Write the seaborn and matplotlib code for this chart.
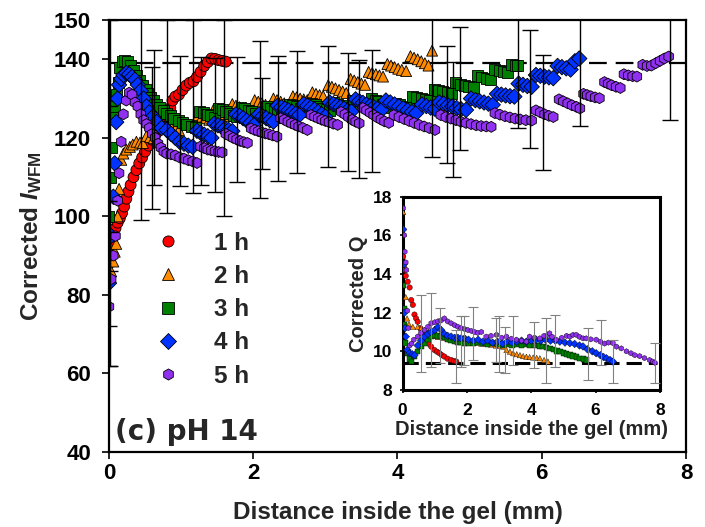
import matplotlib
matplotlib.use('Agg')
import matplotlib.pyplot as plt
import seaborn as sns
import pandas as pd
from matplotlib.lines import Line2D
from matplotlib.font_manager import FontProperties

# ---------------- data ----------------
series_names = ['1 h', '2 h', '3 h', '4 h', '5 h']
series_colors = ['#FF0000', '#FF8C00', '#008000', '#0033FF', '#9030F0']
series_markers = ['o', '^', 's', 'D', 'h']

ref_main = 139      # dashed reference line (main)
ref_inset = 9.4     # dashed reference line (inset)

main_1h = [(0.00, 88), (0.02, 90.5), (0.04, 93), (0.06, 95), (0.09, 97), (0.12, 98.4), (0.15, 99.5),
           (0.18, 100.8), (0.21, 102.5), (0.24, 104.5), (0.27, 106.3), (0.30, 108), (0.34, 110),
           (0.38, 111.8), (0.42, 113.5), (0.46, 115), (0.50, 116.5), (0.55, 118), (0.60, 119.5),
           (0.65, 121), (0.70, 122.5), (0.75, 124), (0.80, 125.8), (0.85, 127.6), (0.88, 129.5),
           (0.92, 130.5), (0.97, 131), (1.02, 132.2), (1.07, 133.3), (1.12, 134), (1.17, 134.4),
           (1.22, 135.5), (1.27, 136.8), (1.32, 138.3), (1.37, 139.3), (1.42, 140.2), (1.47, 140.1),
           (1.52, 139.8), (1.57, 139.6), (1.62, 139.4)]

main_2h = [(0.00, 84), (0.03, 86), (0.06, 88.5), (0.08, 91), (0.10, 93), (0.12, 100), (0.14, 107),
           (0.17, 114.4), (0.20, 116), (0.24, 117), (0.29, 117.7), (0.33, 118.3), (0.38, 119),
           (0.43, 118.8), (0.47, 118.7), (0.52, 120.5), (0.57, 120.2), (0.62, 119.9), (0.67, 119.6),
           (0.72, 123.2), (0.77, 122.9), (0.82, 122.6), (0.87, 122.4), (0.92, 122.2), (0.97, 122.0),
           (1.03, 124.0), (1.08, 123.6), (1.13, 123.3), (1.18, 123.0),
           (1.24, 125.8), (1.29, 125.4), (1.34, 125.0), (1.39, 124.6),
           (1.45, 127.2), (1.50, 126.8), (1.55, 126.4), (1.60, 126.0), (1.65, 125.6),
           (1.71, 128.6), (1.76, 128.2), (1.81, 127.8), (1.86, 127.4), (1.91, 127.0), (1.96, 126.7),
           (2.02, 129.6), (2.07, 129.2), (2.12, 128.8), (2.17, 128.4), (2.22, 128.0),
           (2.28, 130.0), (2.33, 129.6), (2.38, 129.2), (2.43, 128.8), (2.48, 128.4),
           (2.55, 130.6), (2.60, 130.3), (2.65, 130.0), (2.70, 129.8), (2.75, 129.6),
           (2.82, 131.6), (2.87, 131.2), (2.92, 130.9), (2.97, 130.6),
           (3.04, 133.4), (3.09, 133.0), (3.14, 132.6), (3.19, 132.2), (3.24, 131.8), (3.29, 131.4),
           (3.35, 135.0), (3.40, 134.6), (3.45, 134.2), (3.50, 133.8), (3.55, 133.5),
           (3.60, 136.8), (3.65, 136.5), (3.70, 136.2), (3.75, 135.9), (3.80, 135.6),
           (3.86, 138.8), (3.91, 138.4), (3.96, 138.0), (4.01, 137.6), (4.06, 137.3), (4.12, 137.0),
           (4.18, 140.8), (4.23, 140.4), (4.28, 140.0), (4.33, 139.5), (4.38, 139.0), (4.43, 138.4),
           (4.48, 142.2)]

main_3h = [(0.00, 100), (0.02, 110), (0.04, 117.5), (0.05, 125.8), (0.07, 128), (0.10, 131), (0.13, 134),
           (0.15, 138), (0.18, 139.5), (0.22, 139.6), (0.26, 139.4), (0.30, 138.5), (0.34, 137.2),
           (0.38, 136.0), (0.42, 134.6), (0.46, 133.3), (0.50, 132.2), (0.54, 131.2), (0.58, 130.2),
           (0.62, 129.4), (0.66, 128.5), (0.70, 127.8), (0.75, 127.0), (0.80, 126.2), (0.85, 125.6),
           (0.90, 125.0), (0.96, 124.5), (1.02, 124.0), (1.08, 123.5), (1.14, 123.0), (1.20, 122.6),
           (1.26, 126.8), (1.31, 126.4), (1.36, 126.0), (1.41, 125.6), (1.46, 125.2),
           (1.52, 127.6), (1.57, 127.2), (1.62, 126.8), (1.67, 126.3), (1.72, 125.8), (1.77, 125.4),
           (1.83, 127.8), (1.88, 127.4), (1.93, 127.0), (1.98, 126.6), (2.03, 126.2), (2.08, 125.8), (2.13, 125.5),
           (2.19, 128.0), (2.24, 127.6), (2.29, 127.2), (2.34, 126.8), (2.39, 126.4), (2.44, 126.0),
           (2.50, 128.5), (2.55, 128.2), (2.60, 127.9), (2.65, 127.6), (2.70, 127.2), (2.75, 126.8),
           (2.81, 128.8), (2.86, 128.4), (2.91, 128.0), (2.96, 127.6), (3.01, 127.2), (3.06, 126.9),
           (3.12, 129.0), (3.17, 128.6), (3.22, 128.2), (3.27, 127.8), (3.32, 127.4),
           (3.38, 129.6), (3.43, 129.2), (3.48, 128.8), (3.53, 128.4), (3.58, 128.0),
           (3.64, 130.0), (3.69, 129.6), (3.74, 129.2), (3.79, 128.6), (3.85, 128.0), (3.91, 127.6),
           (3.97, 128.8), (4.03, 128.4), (4.09, 128.0), (4.15, 127.7),
           (4.21, 130.6), (4.27, 130.3), (4.33, 130.0), (4.39, 129.7), (4.45, 129.4),
           (4.51, 132.4), (4.57, 132.1), (4.63, 131.8), (4.69, 131.5), (4.75, 131.2),
           (4.81, 134.0), (4.87, 133.7), (4.93, 133.4), (4.99, 133.1), (5.05, 132.8),
           (5.11, 135.8), (5.17, 135.5), (5.23, 135.2), (5.29, 134.9),
           (5.35, 137.4), (5.41, 137.1), (5.47, 136.8), (5.53, 136.6),
           (5.58, 138.6), (5.63, 138.4), (5.67, 138.5)]

main_4h = [(0.00, 83), (0.03, 95), (0.06, 105), (0.08, 113.5), (0.10, 124), (0.12, 130), (0.14, 133.5),
           (0.17, 135), (0.20, 136), (0.24, 136.5), (0.28, 136.2), (0.32, 135.5), (0.36, 134.8),
           (0.40, 133.5), (0.44, 132), (0.48, 130), (0.52, 128), (0.56, 126.5), (0.61, 125.4),
           (0.66, 124), (0.73, 122.5), (0.80, 122.0), (0.86, 121), (0.92, 120), (0.98, 119),
           (1.04, 118.5), (1.10, 118), (1.16, 117.7),
           (1.22, 121.8), (1.27, 121.3), (1.32, 120.8), (1.37, 120.4), (1.42, 120.0),
           (1.46, 123.6), (1.51, 123.2), (1.56, 122.8), (1.61, 122.4), (1.66, 122.0), (1.71, 121.7),
           (1.76, 126.0), (1.81, 125.6), (1.86, 125.0), (1.91, 124.4), (1.96, 123.8), (2.01, 123.2),
           (2.08, 126.0), (2.13, 125.5), (2.18, 125.0), (2.23, 124.5), (2.28, 124.1),
           (2.34, 128.2), (2.39, 127.8), (2.44, 127.4), (2.49, 127.0), (2.54, 126.6), (2.59, 126.2), (2.64, 125.8),
           (2.70, 128.6), (2.75, 128.2), (2.80, 127.7), (2.85, 127.2), (2.90, 126.6), (2.95, 126.0), (3.00, 125.4),
           (3.06, 129.0), (3.11, 128.6), (3.16, 128.2), (3.21, 127.8), (3.26, 127.4), (3.31, 127.0), (3.36, 126.7),
           (3.42, 129.8), (3.47, 129.3), (3.52, 128.9), (3.57, 128.5), (3.62, 128.1), (3.67, 127.8), (3.72, 127.4), (3.78, 127.1),
           (3.84, 129.5), (3.90, 129.0), (3.96, 128.5), (4.02, 128.0), (4.08, 127.5), (4.14, 127.0), (4.20, 126.6), (4.26, 126.3),
           (4.34, 128.5), (4.40, 128.1), (4.46, 127.7), (4.52, 127.4),
           (4.58, 129.0), (4.64, 128.7), (4.70, 128.3), (4.76, 128.0), (4.82, 127.6), (4.88, 127.3), (4.95, 127.1),
           (5.02, 130.0), (5.08, 129.6), (5.14, 129.3), (5.20, 129.0), (5.26, 128.7), (5.32, 128.4),
           (5.38, 131.2), (5.44, 131.0), (5.50, 130.8), (5.56, 130.6), (5.62, 130.5),
           (5.68, 133.8), (5.74, 133.5), (5.80, 133.2), (5.86, 133.0),
           (5.92, 136.0), (5.98, 135.8), (6.04, 135.6), (6.10, 135.4), (6.16, 135.2),
           (6.22, 138.3), (6.28, 138.0), (6.34, 137.7), (6.40, 137.4),
           (6.46, 139.5), (6.52, 140.2)]

main_5h = [(0.00, 77), (0.03, 84), (0.06, 90), (0.09, 95), (0.12, 104), (0.14, 111), (0.17, 119),
           (0.20, 126), (0.24, 129.5), (0.28, 131.5), (0.32, 131), (0.36, 129), (0.40, 128),
           (0.44, 126), (0.48, 124.5), (0.52, 123.5), (0.56, 122.5), (0.60, 121), (0.64, 120),
           (0.68, 118.5), (0.72, 117.5), (0.76, 116.5), (0.80, 116), (0.86, 115.8), (0.92, 115.5),
           (0.98, 115), (1.04, 114.7), (1.10, 114.3), (1.16, 114), (1.22, 113.6),
           (1.27, 117.8), (1.32, 117.4), (1.37, 117.0), (1.42, 116.8), (1.47, 116.6), (1.52, 116.4), (1.57, 116.3),
           (1.62, 121.0), (1.67, 120.5), (1.72, 120.0), (1.77, 119.6), (1.82, 119.2), (1.87, 118.9), (1.92, 118.7),
           (1.97, 122.4), (2.02, 122.0), (2.07, 121.7), (2.12, 121.4), (2.17, 121.1), (2.22, 120.9), (2.27, 120.6), (2.33, 120.3),
           (2.38, 125.0), (2.43, 124.6), (2.48, 124.1), (2.53, 123.7), (2.58, 123.3), (2.63, 122.9), (2.69, 122.5), (2.75, 122.0),
           (2.80, 125.8), (2.85, 125.4), (2.90, 125.0), (2.95, 124.6), (3.00, 124.3), (3.05, 124.0), (3.11, 123.6), (3.17, 123.3),
           (3.22, 126.6), (3.27, 126.0), (3.32, 125.3), (3.37, 124.6), (3.42, 124.1), (3.47, 123.7),
           (3.52, 127.6), (3.57, 127.0), (3.62, 126.4), (3.67, 125.8), (3.72, 125.2), (3.77, 124.7), (3.82, 124.2), (3.88, 123.8),
           (3.95, 125.8), (4.02, 125.3), (4.09, 124.8), (4.16, 124.3), (4.23, 123.8), (4.30, 123.3), (4.37, 122.9), (4.44, 122.5), (4.52, 122.0),
           (4.60, 125.8), (4.67, 125.3), (4.74, 124.9), (4.81, 124.5), (4.88, 124.1), (4.95, 123.8), (5.02, 123.5),
           (5.09, 123.2), (5.16, 123.0), (5.23, 122.9), (5.30, 122.8),
           (5.35, 126.3), (5.42, 125.9), (5.49, 125.5), (5.56, 125.2), (5.63, 124.9), (5.70, 124.7), (5.78, 124.5), (5.86, 124.4),
           (5.92, 127.0), (5.98, 126.5), (6.04, 126.0), (6.10, 125.6), (6.16, 125.3),
           (6.24, 129.8), (6.30, 129.3), (6.36, 128.8), (6.42, 128.3), (6.48, 127.9), (6.53, 127.5),
           (6.58, 131.2), (6.63, 130.9), (6.68, 130.6), (6.74, 130.3), (6.80, 130.1),
           (6.87, 134.2), (6.92, 133.8), (6.97, 133.4), (7.03, 133.0), (7.09, 132.7),
           (7.14, 136.2), (7.20, 135.9), (7.26, 135.7), (7.32, 135.6),
           (7.40, 138.6), (7.46, 138.3), (7.52, 138.4), (7.58, 139.0), (7.64, 139.6), (7.70, 140.2), (7.76, 140.7)]

# main error bars: position, centre, half-width
main_err_x = [0.00, 0.012, 0.00, 0.012, 0.44, 0.59, 0.62, 0.80, 0.98, 1.17, 1.28, 1.47, 1.60, 1.77,
              2.10, 2.12, 2.35, 2.60, 3.04, 3.32, 3.46, 3.64, 4.48, 4.68, 4.77, 4.87, 5.67, 5.84,
              6.02, 6.53, 7.78]
main_err_y = [83, 79, 100, 118, 125, 120, 125.2, 125.4, 124.3, 128, 124.4, 123.3, 125, 124.7,
              124.6, 123.6, 124.9, 126.5, 128, 126.5, 124.9, 126.9, 135, 128.5, 124.7, 132.6, 137, 132.4,
              126.5, 137, 140.5]
main_err_e = [21, 17, 28, 32, 26, 18, 17.2, 24.6, 16.6, 22, 16.3, 17, 25, 16,
              20, 11.6, 16, 15.5, 15.4, 15, 15, 15.5, 20, 15, 14.7, 15.7, 14.6, 15.1,
              14.7, 14, 16]

inset_1h = [(0.02, 14.9), (0.06, 14.2), (0.10, 13.9), (0.16, 13.6), (0.22, 13.3), (0.27, 12.65), (0.32, 12.4),
            (0.37, 11.9), (0.42, 11.7), (0.47, 11.53), (0.55, 11.2), (0.63, 10.9), (0.72, 10.6), (0.80, 10.4),
            (0.89, 10.24), (0.99, 10.07), (1.07, 9.98), (1.15, 9.9), (1.22, 9.8), (1.30, 9.73), (1.40, 9.62),
            (1.51, 9.55), (1.60, 9.5), (1.67, 9.47)]
inset_2h = [(0.02, 17.2), (0.04, 16.1), (0.06, 14.47), (0.10, 12.8), (0.14, 11.7), (0.20, 11.4), (0.32, 11.27),
            (0.47, 11.27), (0.58, 11.2), (0.68, 11.1), (0.80, 11.0), (0.90, 10.9), (1.00, 10.8), (1.10, 10.75),
            (1.25, 10.7), (1.40, 10.65), (1.55, 10.6), (1.70, 10.55), (1.85, 10.5), (2.00, 10.5), (2.15, 10.45),
            (2.30, 10.45), (2.45, 10.4), (2.60, 10.4), (2.75, 10.35), (2.90, 10.3), (3.02, 10.3), (3.13, 10.24),
            (3.23, 10.07), (3.34, 9.98), (3.44, 9.9), (3.55, 9.85), (3.65, 9.8), (3.75, 9.75), (3.85, 9.72),
            (3.95, 9.7), (4.06, 9.68), (4.17, 9.66), (4.27, 9.64), (4.40, 9.55), (4.52, 9.47)]
inset_3h = [(0.02, 13.4), (0.04, 12.2), (0.06, 11.36), (0.10, 10.42), (0.16, 9.9), (0.22, 9.6), (0.28, 9.47),
            (0.37, 9.73), (0.47, 10.0), (0.58, 10.24), (0.68, 10.42), (0.79, 10.6), (0.89, 10.75), (0.99, 10.85),
            (1.10, 10.8), (1.20, 10.76), (1.30, 10.7), (1.41, 10.6), (1.51, 10.55), (1.62, 10.5), (1.72, 10.45),
            (1.82, 10.45), (1.93, 10.42), (2.05, 10.42), (2.20, 10.4), (2.35, 10.45), (2.50, 10.4), (2.65, 10.35),
            (2.80, 10.4), (2.95, 10.35), (3.10, 10.3), (3.25, 10.35), (3.40, 10.3), (3.55, 10.35), (3.70, 10.3),
            (3.85, 10.35), (3.95, 10.33), (4.10, 10.3), (4.25, 10.28), (4.37, 10.25), (4.47, 10.2), (4.58, 10.16),
            (4.70, 10.08), (4.80, 10.02), (4.89, 9.98), (5.00, 9.92), (5.10, 9.86), (5.20, 9.81), (5.30, 9.75),
            (5.40, 9.7), (5.51, 9.64), (5.62, 9.6), (5.72, 9.55)]
inset_4h = [(0.02, 16.3), (0.04, 14.5), (0.06, 12.0), (0.08, 11.2), (0.10, 10.76), (0.15, 10.07), (0.22, 9.9),
            (0.30, 9.85), (0.37, 9.8), (0.47, 10.3), (0.58, 10.55), (0.68, 10.76), (0.79, 10.9), (0.89, 11.0),
            (1.00, 11.1), (1.10, 11.25), (1.20, 11.1), (1.30, 10.9), (1.40, 10.8), (1.51, 10.76), (1.62, 10.7),
            (1.72, 10.7), (1.82, 10.67), (1.93, 10.67), (2.05, 10.6), (2.20, 10.55), (2.35, 10.6), (2.50, 10.5),
            (2.65, 10.55), (2.80, 10.45), (2.95, 10.5), (3.10, 10.4), (3.25, 10.5), (3.40, 10.45), (3.55, 10.5),
            (3.70, 10.55), (3.85, 10.5), (4.00, 10.55), (4.15, 10.6), (4.30, 10.55), (4.45, 10.6), (4.60, 10.55),
            (4.75, 10.55), (4.89, 10.5), (5.05, 10.45), (5.20, 10.42), (5.35, 10.38), (5.50, 10.3), (5.61, 10.25),
            (5.75, 10.1), (5.90, 10.0), (6.02, 9.9), (6.15, 9.8), (6.25, 9.7), (6.34, 9.64), (6.45, 9.55),
            (6.54, 9.47)]
inset_5h = [(0.02, 17.4), (0.05, 16.0), (0.07, 15.15), (0.10, 14.6), (0.12, 14.2), (0.15, 12.1), (0.18, 11.2),
            (0.22, 10.3), (0.28, 10.4), (0.35, 10.6), (0.47, 10.76), (0.57, 10.95), (0.68, 11.1), (0.79, 11.27),
            (0.89, 11.45), (1.00, 11.5), (1.10, 11.55), (1.20, 11.6), (1.30, 11.7), (1.40, 11.55), (1.51, 11.45),
            (1.62, 11.35), (1.72, 11.27), (1.82, 11.2), (1.93, 11.15), (2.03, 11.1), (2.14, 11.05), (2.24, 11.0),
            (2.34, 10.95), (2.45, 11.0), (2.60, 10.76), (2.75, 10.8), (2.92, 10.85), (3.08, 10.7), (3.23, 10.76),
            (3.38, 10.65), (3.54, 10.6), (3.70, 10.55), (3.85, 10.5), (3.95, 10.76), (4.10, 10.7), (4.27, 10.67),
            (4.40, 10.8), (4.52, 10.85), (4.57, 10.93), (4.65, 10.75), (4.78, 10.6), (4.95, 10.7), (5.10, 10.8),
            (5.20, 10.76), (5.30, 10.85), (5.40, 10.85), (5.50, 10.75), (5.61, 10.67), (5.71, 10.67), (5.85, 10.62),
            (6.02, 10.6), (6.15, 10.5), (6.28, 10.4), (6.40, 10.45), (6.54, 10.42), (6.65, 10.24), (6.80, 10.15),
            (6.96, 10.0), (7.10, 9.9), (7.22, 9.8), (7.37, 9.75), (7.52, 9.65), (7.68, 9.55), (7.78, 9.47),
            (7.84, 9.41)]

# inset error bars: position, low, high
inset_err_x = [0.58, 0.89, 1.15, 1.67, 1.82, 1.92, 2.18, 2.91, 3.01, 3.17, 3.43, 4.10, 4.47, 4.73,
               5.76, 6.18, 6.54, 7.84]
inset_err_lo = [8.95, 9.2, 9.38, 8.35, 9.2, 9.3, 9.55, 9.46, 8.95, 8.86, 9.3, 9.12, 8.35, 9.2,
                8.52, 9.3, 8.35, 8.34]
inset_err_hi = [12.9, 13.0, 12.22, 11.1, 11.8, 11.8, 12.3, 11.7, 11.8, 11.27, 11.8, 11.53, 11.7, 11.88,
                11.2, 11.62, 10.6, 10.42]

main_xticks = [0, 2, 4, 6, 8]
main_yticks = [40, 60, 80, 100, 120, 140, 150]
inset_xticks = [0, 2, 4, 6, 8]
inset_yticks = [8, 10, 12, 14, 16, 18]

# ---------------- style ----------------
sns.set_style('ticks')
plt.rcParams['font.family'] = ['Liberation Sans', 'DejaVu Sans']
plt.rcParams['font.weight'] = 'bold'
plt.rcParams['axes.labelweight'] = 'bold'
plt.rcParams['mathtext.fontset'] = 'custom'
plt.rcParams['mathtext.rm'] = 'Liberation Sans:bold'
plt.rcParams['mathtext.bf'] = 'Liberation Sans:bold'
plt.rcParams['mathtext.it'] = 'Liberation Sans:italic:bold'


def to_frame(series_lists):
    rows = []
    for name, pts in zip(series_names, series_lists):
        for x, y in pts:
            rows.append({'x': x, 'y': y, 'series': name})
    return pd.DataFrame(rows)


df_main = to_frame([main_1h, main_2h, main_3h, main_4h, main_5h])
df_inset = to_frame([inset_1h, inset_2h, inset_3h, inset_4h, inset_5h])
palette = dict(zip(series_names, series_colors))
marker_map = dict(zip(series_names, series_markers))

fig = plt.figure(figsize=(7.05, 5.27), dpi=100)
ax = fig.add_axes([0.1546, 0.1423, 0.8184, 0.8197])

ax.axhline(ref_main, color='black', lw=1.6, ls=(0, (8, 4)), zorder=2)
sns.scatterplot(data=df_main, x='x', y='y', hue='series', style='series', palette=palette,
                markers=marker_map, s=62, edgecolor='black', linewidth=0.6, legend=False,
                ax=ax, zorder=3)
ax.errorbar(main_err_x, main_err_y, yerr=main_err_e, fmt='none', ecolor='black',
            elinewidth=1.0, capsize=6, capthick=1.0, zorder=4)

ax.set_xlim(0, 8)
ax.set_ylim(40, 150)
ax.set_xticks(main_xticks)
ax.set_yticks(main_yticks)
ax.tick_params(axis='both', direction='out', length=5, width=1.2, labelsize=16, colors='black')
ax.tick_params(axis='y', pad=8)
ax.tick_params(axis='x', pad=3)
for sp in ax.spines.values():
    sp.set_visible(True)
    sp.set_linewidth(1.6)
    sp.set_color('black')
ax.set_xlabel('Distance inside the gel (mm)', fontsize=17.5, labelpad=12)
ax.set_ylabel(r'Corrected $\mathit{I}_{\mathrm{WFM}}$', fontsize=17.5, labelpad=7)

handles = [Line2D([0], [0], marker=m, color='none', markerfacecolor=c, markeredgecolor='black',
                  markersize=8, markeredgewidth=0.6)
           for m, c in zip(series_markers, series_colors)]
ax.legend(handles, series_names, loc='upper left', bbox_to_anchor=(0.0815, 0.51), frameon=False,
          handlelength=1.0, handletextpad=1.4, labelspacing=0.42, borderpad=0, borderaxespad=0,
          prop=FontProperties(family='Liberation Sans', weight='bold', size=17.5))

ax.text(0.0104, 0.028, '(c) pH 14', transform=ax.transAxes, fontsize=20, fontweight='bold',
        family='DejaVu Sans', va='baseline', ha='left')

# ---------------- inset ----------------
axi = fig.add_axes([0.571, 0.26, 0.365, 0.367])
axi.set_zorder(6)
axi.set_facecolor('white')
axi.axhline(ref_inset, xmax=0.99, color='black', lw=2.2, ls=(0, (5, 2.3)), zorder=2)
sns.scatterplot(data=df_inset, x='x', y='y', hue='series', style='series', palette=palette,
                markers=marker_map, s=15, edgecolor='black', linewidth=0.3, legend=False,
                ax=axi, zorder=3)
ctr = [(lo + hi) / 2 for lo, hi in zip(inset_err_lo, inset_err_hi)]
half = [(hi - lo) / 2 for lo, hi in zip(inset_err_lo, inset_err_hi)]
axi.errorbar(inset_err_x, ctr, yerr=half, fmt='none', ecolor='#808080', elinewidth=0.8,
             capsize=3.5, capthick=0.8, zorder=4)
axi.set_xlim(0, 8)
axi.set_ylim(8, 18)
axi.set_xticks(inset_xticks)
axi.set_yticks(inset_yticks)
axi.tick_params(axis='both', direction='out', length=2.5, width=1.2, labelsize=12.5, colors='black')
axi.tick_params(axis='y', pad=5)
axi.tick_params(axis='x', pad=7)
for sp in axi.spines.values():
    sp.set_visible(True)
    sp.set_linewidth(2.2)
    sp.set_color('black')
axi.set_xlabel('Distance inside the gel (mm)', fontsize=14.5, labelpad=1)
axi.set_ylabel('Corrected Q', fontsize=14.5, labelpad=3)

fig.savefig('out.png', dpi=100)
